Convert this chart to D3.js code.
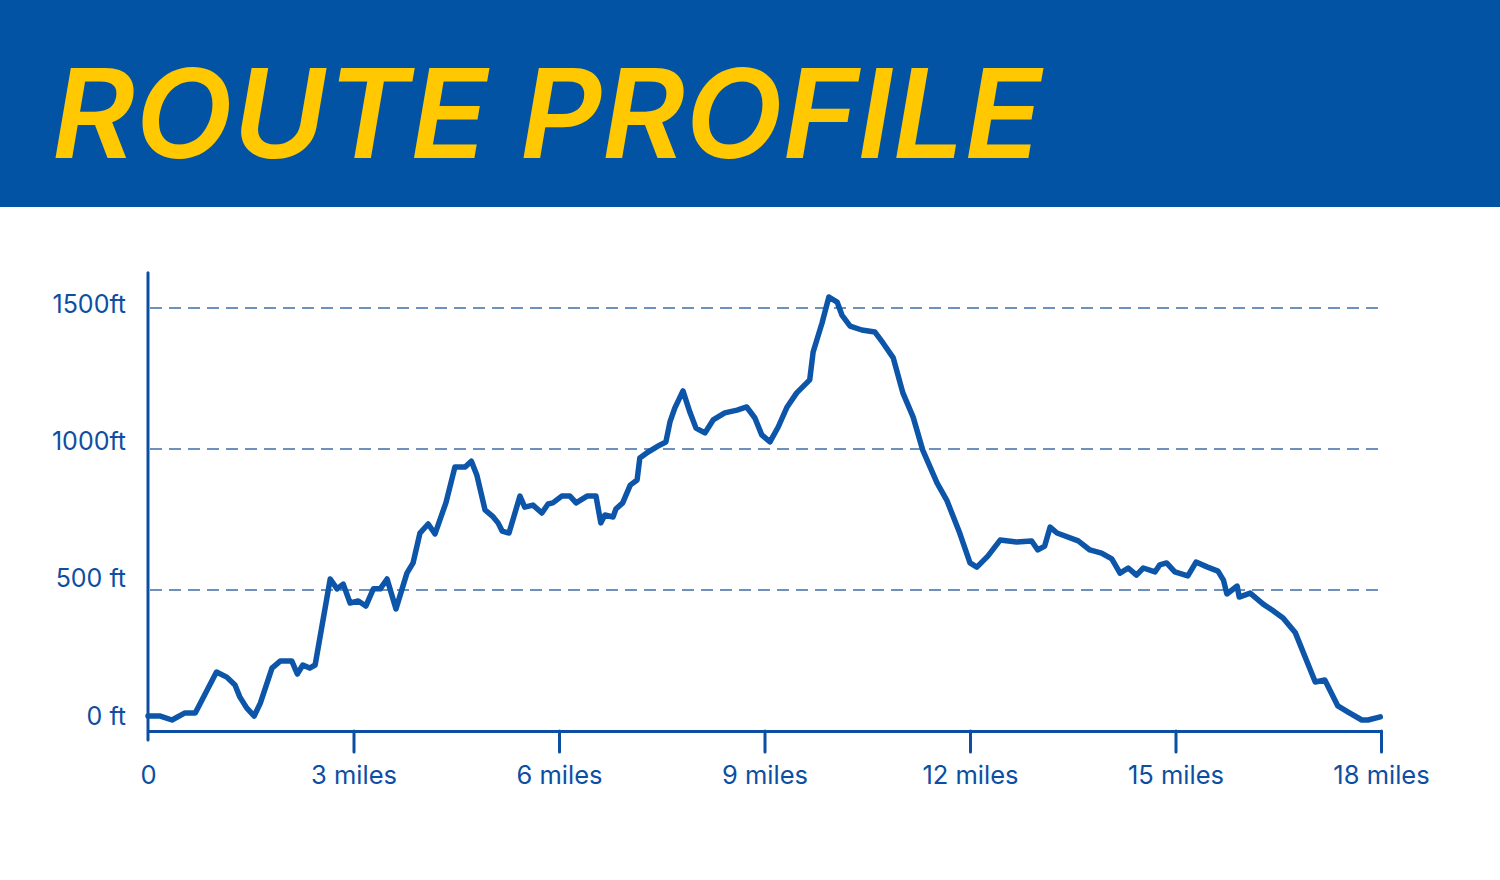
<!DOCTYPE html>
<html>
<head>
<meta charset="utf-8">
<script src="https://cdn.jsdelivr.net/npm/d3@7"></script>
<style>
  html, body { margin: 0; padding: 0; background: #fff; }
  svg { display: block; }
</style>
</head>
<body>
<div id="chart"></div>
<script>
// Distance along the route (miles) and elevation (ft)
const miles = [
  0, 0.18, 0.35, 0.54, 0.69, 1.0, 1.15, 1.27, 1.34, 1.44, 1.55, 1.64, 1.81, 1.93, 2.1, 2.18, 2.26, 2.36, 2.44,
  2.66, 2.76, 2.85, 2.95, 3.07, 3.18, 3.29, 3.39, 3.49, 3.62, 3.78, 3.87, 3.97, 4.09, 4.19, 4.35, 4.48, 4.63,
  4.72, 4.80, 4.92, 5.04, 5.11, 5.17, 5.27, 5.43, 5.50, 5.62, 5.75, 5.84, 5.91, 6.04, 6.16, 6.25, 6.41, 6.54,
  6.61, 6.67, 6.79, 6.83, 6.93, 7.04, 7.14, 7.18, 7.30, 7.45, 7.56, 7.62, 7.69, 7.81, 7.91, 8.0, 8.13, 8.25,
  8.42, 8.60, 8.74, 8.86, 8.96, 9.08, 9.20, 9.33, 9.47, 9.66, 9.71, 9.84, 9.94, 10.06, 10.13, 10.25, 10.42,
  10.61, 10.73, 10.88, 11.02, 11.17, 11.31, 11.52, 11.66, 11.85, 12.0, 12.1, 12.26, 12.44, 12.68, 12.90, 12.99,
  13.09, 13.17, 13.27, 13.58, 13.75, 13.92, 14.07, 14.19, 14.31, 14.43, 14.53, 14.70, 14.77, 14.87, 14.99,
  15.18, 15.30, 15.46, 15.62, 15.70, 15.75, 15.90, 15.93, 16.09, 16.28, 16.41, 16.57, 16.75, 17.04, 17.18,
  17.37, 17.52, 17.72, 17.81, 17.99
];
const elevation = [
  53, 53, 39, 64, 64, 209, 191, 163, 121, 82, 53, 99, 223, 248, 248, 202, 234, 223, 234,
  539, 504, 521, 454, 461, 443, 504, 504, 539, 433, 560, 596, 702, 734, 699, 810, 936, 936,
  957, 908, 784, 759, 738, 709, 702, 833, 794, 801, 773, 805, 809, 833, 833, 809, 833, 833,
  738, 766, 759, 787, 809, 872, 890, 968, 989, 1011, 1025, 1096, 1145, 1206, 1131, 1074, 1057, 1103,
  1128, 1138, 1149, 1110, 1050, 1025, 1078, 1149, 1199, 1245, 1344, 1447, 1539, 1521, 1475, 1436, 1422,
  1415, 1376, 1323, 1199, 1113, 996, 879, 819, 702, 596, 581, 620, 677, 670, 674, 642,
  656, 723, 702, 674, 642, 631, 610, 560, 578, 553, 578, 564, 589, 596, 564,
  550, 599, 582, 567, 535, 486, 514, 475, 489, 450, 429, 401, 348, 174, 181,
  89, 67, 39, 39, 50
];

// Axis ticks
const xTicks = [0, 3, 6, 9, 12, 15, 18];
const xTickLabels = ["0", "3 miles", "6 miles", "9 miles", "12 miles", "15 miles", "18 miles"];
const yTicks = [0, 500, 1000, 1500];
const yTickLabels = ["0 ft", "500 ft", "1000ft", "1500ft"];

const W = 1500, H = 880;
const blue = "#0353a4";
const ink = "#0c4fa2";
const font = "Inter, 'Noto Sans', sans-serif";

const svg = d3.select("#chart").append("svg")
    .attr("width", W)
    .attr("height", H);

// header band + title
svg.append("rect")
    .attr("x", 0).attr("y", 0)
    .attr("width", W).attr("height", 207)
    .attr("fill", blue);

svg.append("text")
    .attr("x", 52)
    .attr("y", 158)
    .attr("fill", "#ffc800")
    .style("font-family", font)
    .style("font-size", "124px")
    .style("font-weight", 600)
    .style("font-style", "italic")
    .attr("textLength", 990)
    .attr("lengthAdjust", "spacingAndGlyphs")
    .text("ROUTE PROFILE");

// scales
const x = d3.scaleLinear().domain([0, 18]).range([148, 1381]);
const y = d3.scaleLinear().domain([0, 1500]).range([731, 308]);
// the tick labels sit on a slightly squeezed scale of their own in the original
const yLabel = d3.scaleLinear().domain([0, 1500]).range([718, 306]);

// dashed gridlines (skip the baseline)
svg.append("g")
    .selectAll("line")
    .data(yTicks.filter(d => d > 0))
    .join("line")
    .attr("x1", x(0) + 2)
    .attr("x2", x(18))
    .attr("y1", d => y(d))
    .attr("y2", d => y(d))
    .attr("stroke", "#3f6ca8")
    .attr("stroke-width", 1.3)
    .attr("stroke-dasharray", "12 7");

// y labels
svg.append("g")
    .selectAll("text")
    .data(yTicks)
    .join("text")
    .attr("x", 126)
    .attr("y", d => yLabel(d))
    .attr("text-anchor", "end")
    .attr("dominant-baseline", "middle")
    .attr("fill", ink)
    .style("font-family", font)
    .style("font-size", "25px")
    .text((d, i) => yTickLabels[i]);

// x axis
const xAxis = svg.append("g")
    .attr("transform", `translate(0,${y(0)})`)
    .call(d3.axisBottom(x)
        .tickValues(xTicks)
        .tickSize(21)
        .tickSizeOuter(0)
        .tickPadding(14)
        .tickFormat((d, i) => xTickLabels[i]));

xAxis.select(".domain")
    .attr("stroke", ink)
    .attr("stroke-width", 3);
xAxis.selectAll(".tick line")
    .attr("stroke", ink)
    .attr("stroke-width", 3)
    .attr("stroke-linecap", "round")
    .attr("display", d => d === 0 ? "none" : null);
xAxis.selectAll(".tick text")
    .attr("fill", ink)
    .style("font-family", font)
    .style("font-size", "25.5px");

// y axis line
svg.append("line")
    .attr("x1", x(0)).attr("x2", x(0))
    .attr("y1", y(1625))
    .attr("y2", y(-32))
    .attr("stroke", ink)
    .attr("stroke-width", 3)
    .attr("stroke-linecap", "round");

// elevation line
const line = d3.line()
    .x((d, i) => x(miles[i]))
    .y(d => y(d));

svg.append("path")
    .datum(elevation)
    .attr("fill", "none")
    .attr("stroke", "#0d55a8")
    .attr("stroke-width", 5.5)
    .attr("stroke-linejoin", "round")
    .attr("stroke-linecap", "round")
    .attr("d", line);
</script>
</body>
</html>
